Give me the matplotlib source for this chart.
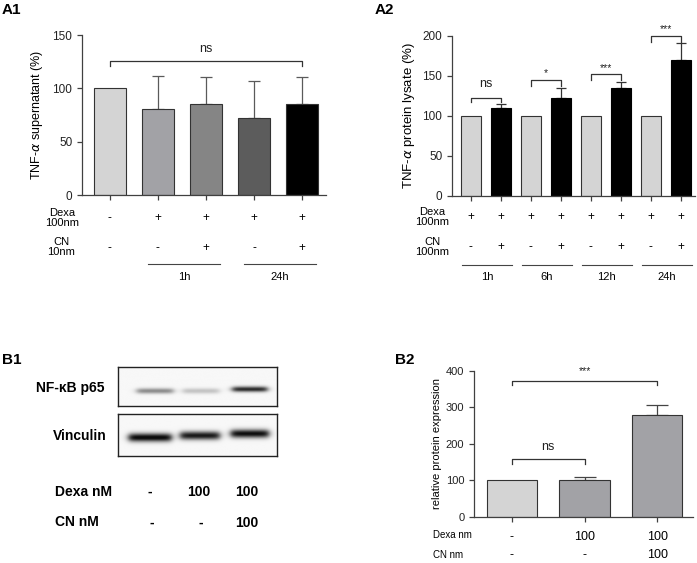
import numpy as np
import matplotlib
matplotlib.use("Agg")
import matplotlib.pyplot as plt

plt.rcParams['font.family'] = ['Liberation Sans', 'DejaVu Sans']

W, H = 697, 563

# A1 - TNF-a supernatant
a1_values = [100, 81, 85, 72, 85]
a1_err = [0, 31, 26, 35, 26]
a1_colors = ['#d4d4d4', '#a2a2a6', '#858585', '#5c5c5c', '#000000']
a1_dexa = ['-', '+', '+', '+', '+']
a1_cn = ['-', '-', '+', '-', '+']
a1_groups = ['1h', '24h']

# A2 - TNF-a protein lysate
a2_times = ['1h', '6h', '12h', '24h']
a2_ctrl = [100, 100, 100, 100]
a2_cn = [110, 123, 135, 170]
a2_cn_err = [5, 12, 7, 21]
a2_sig = ['ns', '*', '***', '***']
a2_sig_y = [123, 145, 152, 200]

# B1 - western blot band intensities
b1_p65 = [0.45, 0.22, 0.85]
b1_vinculin = [1.0, 0.92, 0.97]
b1_dexa = ['-', '100', '100']
b1_cn = ['-', '-', '100']

# B2 - relative protein expression
b2_values = [100, 102, 278]
b2_err = [0, 8, 29]
b2_colors = ['#d4d4d4', '#a2a2a6', '#a2a2a6']
b2_dexa = ['-', '100', '100']
b2_cn = ['-', '-', '100']

AX_COL = '#404040'


def box(x0, y0, x1, y1):
    return [x0 / W, 1 - y1 / H, (x1 - x0) / W, (y1 - y0) / H]


def ftext(x, y, s, **kw):
    fig.text(x / W, 1 - y / H, s, **kw)


def style(ax, size=8.5):
    for s in ['top', 'right']:
        ax.spines[s].set_visible(False)
    for s in ['left', 'bottom']:
        ax.spines[s].set_color(AX_COL)
        ax.spines[s].set_linewidth(0.9)
    ax.tick_params(direction='out', length=3.5, width=0.9, color=AX_COL,
                   labelsize=size, labelcolor='#222222')


def bracket(ax, x0, x1, top, low, label, dy, size):
    ax.plot([x0, x0, x1, x1], [low, top, top, low], color='#333333', lw=0.9,
            clip_on=False)
    ax.text((x0 + x1) / 2, top + dy, label, ha='center', va='bottom',
            fontsize=size, color='#222222')


fig = plt.figure(figsize=(W / 100, H / 100), dpi=100)

# ---------------- A1
ax1 = fig.add_axes(box(82, 35, 326, 195))
style(ax1)
x1 = np.arange(len(a1_values))
ax1.bar(x1, a1_values, width=0.67, color=a1_colors, edgecolor='#333333',
        linewidth=0.8, zorder=2)
ax1.errorbar(x1[1:], a1_values[1:], yerr=[np.zeros(4), a1_err[1:]], fmt='none',
             ecolor='#5a5a5a', elinewidth=0.9, capsize=4.5, capthick=0.9, zorder=1)
ax1.set_xlim(-0.58, 4.5)
ax1.set_ylim(0, 150)
ax1.set_yticks([0, 50, 100, 150])
ax1.set_xticks(x1)
ax1.set_xticklabels([])
ax1.set_ylabel(r'TNF-$\alpha$ supernatant (%)', fontsize=9, labelpad=5)
bracket(ax1, 0, 4, 126, 121, 'ns', 5, 9)
tr = ax1.get_xaxis_transform()
for i in x1:
    ax1.text(i, -0.144, a1_dexa[i], transform=tr, ha='center', va='center', fontsize=8.5)
    ax1.text(i, -0.33, a1_cn[i], transform=tr, ha='center', va='center', fontsize=8.5)
for k, g in enumerate(a1_groups):
    xa, xb = 0.79 + 2 * k, 2.3 + 2 * k
    ax1.plot([xa, xb], [-0.431, -0.431], transform=tr, color='#444444', lw=0.8, clip_on=False)
    ax1.text((xa + xb) / 2, -0.51, g, transform=tr, ha='center', va='center', fontsize=8)
ftext(62, 218, 'Dexa\n100nm', ha='center', va='center', fontsize=8, linespacing=1.1)
ftext(61, 247, 'CN\n10nm', ha='center', va='center', fontsize=8, linespacing=1.1)

# ---------------- A2
ax2 = fig.add_axes(box(452, 36, 695, 196))
style(ax2)
xc = np.arange(len(a2_times)) * 2
ax2.bar(xc, a2_ctrl, width=0.67, color='#d4d4d4', edgecolor='#333333', linewidth=0.8, zorder=2)
ax2.bar(xc + 1, a2_cn, width=0.67, color='#000000', edgecolor='#000000', linewidth=0.8, zorder=2)
ax2.errorbar(xc + 1, a2_cn, yerr=[np.zeros(4), a2_cn_err], fmt='none', ecolor='#333333',
             elinewidth=0.9, capsize=3.6, capthick=0.9, zorder=1)
ax2.set_xlim(-0.63, 7.47)
ax2.set_ylim(0, 200)
ax2.set_yticks([0, 50, 100, 150, 200])
ax2.set_xticks(np.arange(8))
ax2.set_xticklabels([])
ax2.set_ylabel(r'TNF-$\alpha$ protein lysate (%)', fontsize=9.5, labelpad=4)
for k in range(4):
    top = a2_sig_y[k]
    if a2_sig[k] == 'ns':
        bracket(ax2, xc[k], xc[k] + 1, top, top - 6, 'ns', 9, 9)
    else:
        bracket(ax2, xc[k], xc[k] + 1, top, top - 7, a2_sig[k], 2, 7.5)
tr = ax2.get_xaxis_transform()
for i in range(8):
    ax2.text(i, -0.131, '+', transform=tr, ha='center', va='center', fontsize=8.5)
    ax2.text(i, -0.319, '+' if i % 2 else '-', transform=tr, ha='center', va='center', fontsize=8.5)
for k, g in enumerate(a2_times):
    xa, xb = 2 * k - 0.3, 2 * k + 1.37
    ax2.plot([xa, xb], [-0.431, -0.431], transform=tr, color='#444444', lw=0.8, clip_on=False)
    ax2.text((xa + xb) / 2, -0.506, g, transform=tr, ha='center', va='center', fontsize=8)
ftext(432, 217, 'Dexa\n100nm', ha='center', va='center', fontsize=8, linespacing=1.1)
ftext(432, 247, 'CN\n100nm', ha='center', va='center', fontsize=8, linespacing=1.1)


# ---------------- B1 western blot
def draw_blot(ax, levels, lanes, ys, half_w, sigma):
    gx = np.linspace(0, 1, 320)
    gy = np.linspace(0, 1, 90)
    X, Y = np.meshgrid(gx, gy)
    img = np.full_like(X, 0.03)
    for lv, xc_, yc, hw in zip(levels, lanes, ys, half_w):
        wx = 1 / (1 + np.exp(-(X - (xc_ - hw)) / 0.012)) / (1 + np.exp((X - (xc_ + hw)) / 0.012))
        wy = np.exp(-0.5 * ((Y - yc) / sigma) ** 2)
        img += lv * wx * wy
    ax.imshow(np.clip(img, 0, 1), cmap='gray_r', vmin=0, vmax=1.05, extent=[0, 1, 0, 1],
              origin='lower', aspect='auto', interpolation='bilinear')
    ax.set_xlim(0, 1)
    ax.set_ylim(0, 1)
    ax.set_xticks([])
    ax.set_yticks([])
    for s in ax.spines.values():
        s.set_color('#222222')
        s.set_linewidth(1.0)


bw = 277 - 118
axb1 = fig.add_axes(box(118, 367, 277, 406))
draw_blot(axb1, b1_p65, [(155 - 118) / bw, (201 - 118) / bw, (250 - 118) / bw],
          [0.385, 0.385, 0.43], [0.115, 0.115, 0.11], 0.05)
axb2 = fig.add_axes(box(118, 414, 277, 456))
draw_blot(axb2, b1_vinculin, [(150 - 118) / bw, (200 - 118) / bw, (250 - 118) / bw],
          [0.43, 0.475, 0.52], [0.135, 0.125, 0.12], 0.07)
ftext(105, 388, 'NF-κB p65', ha='right', va='center', fontsize=10, fontweight='bold')
ftext(107, 436, 'Vinculin', ha='right', va='center', fontsize=10, fontweight='bold')
ftext(55, 492, 'Dexa nM', ha='left', va='center', fontsize=10, fontweight='bold')
ftext(55, 522, 'CN nM', ha='left', va='center', fontsize=10, fontweight='bold')
for lx, d, c in zip([150, 199, 247], b1_dexa, b1_cn):
    ftext(lx, 492, d, ha='center', va='center', fontsize=10, fontweight='bold')
    ftext(lx if c != '-' else lx + 2, 523, c, ha='center', va='center', fontsize=10, fontweight='bold')

# ---------------- B2
ax3 = fig.add_axes(box(474, 371, 693, 516.7))
style(ax3, 8)
x3 = np.arange(len(b2_values))
ax3.bar(x3, b2_values, width=0.69, color=b2_colors, edgecolor='#333333', linewidth=0.8, zorder=2)
ax3.errorbar(x3[1:], b2_values[1:], yerr=[np.zeros(2), b2_err[1:]], fmt='none',
             ecolor='#444444', elinewidth=0.9, capsize=8, capthick=0.9, zorder=1)
ax3.set_xlim(-0.52, 2.49)
ax3.set_ylim(0, 400)
ax3.set_yticks([0, 100, 200, 300, 400])
ax3.set_xticks(x3)
ax3.set_xticklabels([])
ax3.set_ylabel('relative protein expression', fontsize=8, labelpad=3)
bracket(ax3, 0, 1, 158, 146, 'ns', 18, 9)
bracket(ax3, 0, 2, 373, 362, '***', 14, 7.5)
tr = ax3.get_xaxis_transform()
for i in x3:
    ax3.text(i, -0.14, b2_dexa[i], transform=tr, ha='center', va='center', fontsize=9)
    ax3.text(i, -0.265, b2_cn[i], transform=tr, ha='center', va='center', fontsize=9)
ftext(433, 535, 'Dexa nm', ha='left', va='center', fontsize=7)
ftext(433, 555, 'CN nm', ha='left', va='center', fontsize=7)

# panel letters
ftext(2, 10, 'A1', ha='left', va='center', fontsize=11, fontweight='bold')
ftext(375, 10, 'A2', ha='left', va='center', fontsize=11, fontweight='bold')
ftext(2, 360, 'B1', ha='left', va='center', fontsize=11, fontweight='bold')
ftext(395, 360, 'B2', ha='left', va='center', fontsize=11, fontweight='bold')

fig.savefig('out.png', dpi=100)
